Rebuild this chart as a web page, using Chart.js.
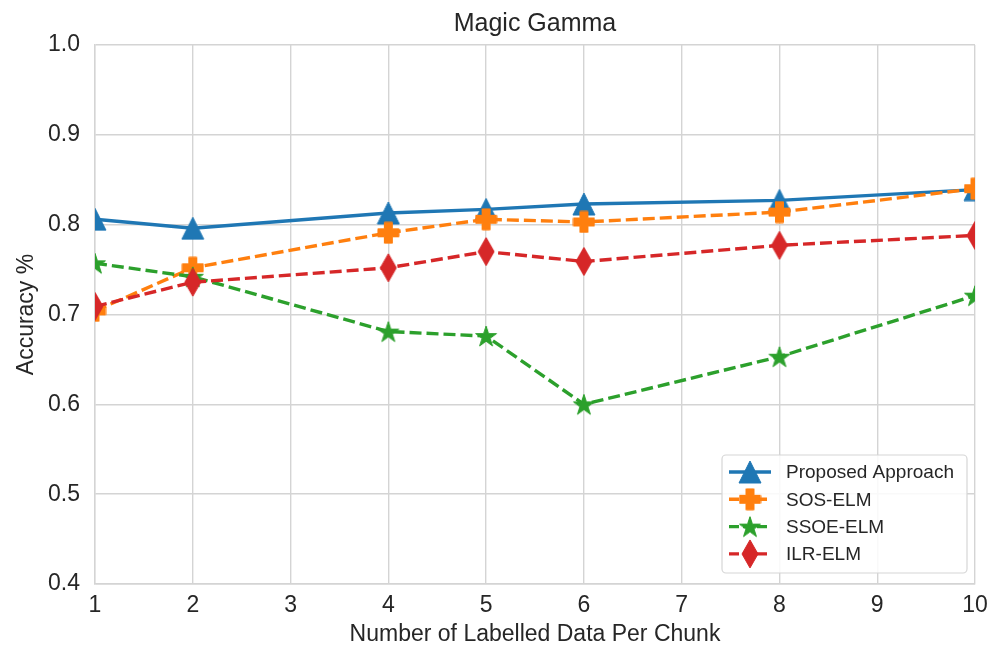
<!DOCTYPE html>
<html>
<head>
<meta charset="utf-8">
<title>Magic Gamma</title>
<script src="https://cdn.jsdelivr.net/npm/chart.js@4/dist/chart.umd.min.js"></script>
<style>
  html, body { margin: 0; padding: 0; background: #ffffff; }
  #wrap { width: 1004px; height: 651px; }
</style>
</head>
<body>
<div id="wrap"><canvas id="chart" width="1004" height="651"></canvas></div>
<script>
// Labelled samples per chunk (x positions)
const chunkSizes = [1, 2, 4, 5, 6, 8, 10];

// Accuracy of each method
const proposedApproach = [0.806, 0.796, 0.813, 0.817, 0.823, 0.827, 0.839];
const sosElm = [0.704, 0.752, 0.791, 0.806, 0.803, 0.814, 0.840];
const ssoeElm = [0.757, 0.742, 0.681, 0.676, 0.600, 0.653, 0.721];
const ilrElm = [0.709, 0.736, 0.752, 0.770, 0.759, 0.777, 0.788];

const seriesNames = ['Proposed Approach', 'SOS-ELM', 'SSOE-ELM', 'ILR-ELM'];
const xTickValues = [1, 2, 3, 4, 5, 6, 7, 8, 9, 10];
const yTickValues = [0.4, 0.5, 0.6, 0.7, 0.8, 0.9, 1.0];

const FONT = '"Liberation Sans", Arial, Helvetica, sans-serif';
const TEXT = '#262626';
const GRID = '#d4d4d4';

// ---- filled marker glyphs ----
function makeMarker(w, h, color, drawPath) {
  const c = document.createElement('canvas');
  c.width = w; c.height = h;
  const g = c.getContext('2d');
  g.fillStyle = color;
  g.strokeStyle = color;
  g.lineWidth = 1;
  g.lineJoin = 'miter';
  g.beginPath();
  drawPath(g, w, h);
  g.closePath();
  g.fill();
  g.stroke();
  return c;
}
const triangle = makeMarker(24, 24, '#1f77b4', (g, w, h) => {
  g.moveTo(w / 2, 1); g.lineTo(w - 1, h - 1); g.lineTo(1, h - 1);
});
const plusFilled = makeMarker(23, 23, '#ff7f0e', (g, w, h) => {
  const a = 7.5, b = 15.5, e = 1, f = 22;
  g.moveTo(a, e); g.lineTo(b, e); g.lineTo(b, a); g.lineTo(f, a);
  g.lineTo(f, b); g.lineTo(b, b); g.lineTo(b, f); g.lineTo(a, f);
  g.lineTo(a, b); g.lineTo(e, b); g.lineTo(e, a); g.lineTo(a, a);
});
const starFilled = makeMarker(24, 24, '#2ca02c', (g, w, h) => {
  const cx = w / 2, cy = h / 2 + 1, R = 11, r = R * 0.382;
  for (let i = 0; i < 10; i++) {
    const rad = i % 2 === 0 ? R : r;
    const ang = -Math.PI / 2 + i * Math.PI / 5;
    const px = cx + rad * Math.cos(ang), py = cy + rad * Math.sin(ang);
    if (i === 0) g.moveTo(px, py); else g.lineTo(px, py);
  }
});
const thinDiamond = makeMarker(18, 30, '#d62728', (g, w, h) => {
  g.moveTo(w / 2, 1); g.lineTo(w - 1, h / 2); g.lineTo(w / 2, h - 1); g.lineTo(1, h / 2);
});

function points(ys) { return chunkSizes.map((x, i) => ({ x: x, y: ys[i] })); }

const seriesStyles = [
  { color: '#1f77b4', dash: [], marker: triangle, values: proposedApproach, order: 4 },
  { color: '#ff7f0e', dash: [12, 5], marker: plusFilled, values: sosElm, order: 3 },
  { color: '#2ca02c', dash: [12, 5], marker: starFilled, values: ssoeElm, order: 2 },
  { color: '#d62728', dash: [12, 5], marker: thinDiamond, values: ilrElm, order: 1 }
];

const datasets = seriesStyles.map((s, i) => ({
  label: seriesNames[i],
  data: points(s.values),
  borderColor: s.color,
  backgroundColor: s.color,
  borderWidth: 3.4,
  borderDash: s.dash,
  pointStyle: s.marker,
  pointRadius: 11,
  pointHoverRadius: 11,
  tension: 0,
  clip: 0,
  order: s.order,
  _marker: s.marker
}));

// Title and in-plot legend
const overlayPlugin = {
  id: 'overlay',
  afterDraw(chart) {
    const ctx = chart.ctx;
    const area = chart.chartArea;
    ctx.save();
    ctx.fillStyle = TEXT;
    ctx.font = '25px ' + FONT;
    ctx.textAlign = 'center';
    ctx.textBaseline = 'middle';
    ctx.fillText('Magic Gamma', (area.left + area.right) / 2, 24);

    // legend box, lower right of plot
    const bx = 722, by = 455, bw = 245, bh = 118, rad = 4;
    ctx.beginPath();
    ctx.moveTo(bx + rad, by);
    ctx.arcTo(bx + bw, by, bx + bw, by + bh, rad);
    ctx.arcTo(bx + bw, by + bh, bx, by + bh, rad);
    ctx.arcTo(bx, by + bh, bx, by, rad);
    ctx.arcTo(bx, by, bx + bw, by, rad);
    ctx.closePath();
    ctx.fillStyle = 'rgba(255,255,255,0.85)';
    ctx.fill();
    ctx.strokeStyle = '#d6d6d6';
    ctx.lineWidth = 1.2;
    ctx.stroke();

    chart.data.datasets.forEach((ds, i) => {
      const y = 472 + i * 27.3;
      ctx.beginPath();
      ctx.setLineDash(ds.borderDash.length ? [10, 4] : []);
      ctx.strokeStyle = ds.borderColor;
      ctx.lineWidth = 3.4;
      ctx.moveTo(729, y);
      ctx.lineTo(771, y);
      ctx.stroke();
      ctx.setLineDash([]);
      const m = ds._marker;
      ctx.drawImage(m, 750 - m.width / 2, y - m.height / 2);
      ctx.fillStyle = TEXT;
      ctx.font = '19px ' + FONT;
      ctx.textAlign = 'left';
      ctx.textBaseline = 'middle';
      ctx.fillText(ds.label, 786, y + 1);
    });
    ctx.restore();
  }
};

new Chart(document.getElementById('chart'), {
  type: 'line',
  data: { datasets: datasets },
  plugins: [overlayPlugin],
  options: {
    responsive: false,
    animation: false,
    events: [],
    layout: { padding: { top: 45, right: 29, left: 0, bottom: 0 } },
    plugins: {
      legend: { display: false },
      title: { display: false },
      tooltip: { enabled: false }
    },
    scales: {
      x: {
        type: 'linear',
        min: 1,
        max: 10,
        afterBuildTicks: (scale) => { scale.ticks = xTickValues.map(v => ({ value: v })); },
        afterFit: (scale) => { scale.height = 67; },
        ticks: {
          color: TEXT,
          font: { family: FONT, size: 23 },
          padding: 8,
          callback: (v) => String(v)
        },
        grid: { color: GRID, lineWidth: 1.4, drawTicks: false },
        border: { display: true, color: GRID, width: 1.4 },
        title: {
          display: true,
          text: 'Number of Labelled Data Per Chunk',
          color: TEXT,
          font: { family: FONT, size: 23 },
          padding: { top: 0, bottom: 3 }
        }
      },
      y: {
        type: 'linear',
        min: 0.4,
        max: 1.0,
        afterBuildTicks: (scale) => { scale.ticks = yTickValues.map(v => ({ value: v })); },
        afterFit: (scale) => { scale.width = 95; },
        ticks: {
          color: TEXT,
          font: { family: FONT, size: 23 },
          padding: 15,
          callback: (v) => Number(v).toFixed(1)
        },
        grid: { color: GRID, lineWidth: 1.4, drawTicks: false },
        border: { display: true, color: GRID, width: 1.4 },
        title: {
          display: true,
          text: 'Accuracy %',
          color: TEXT,
          font: { family: FONT, size: 23 },
          padding: { top: 13, bottom: 0 }
        }
      }
    }
  }
});
</script>
</body>
</html>
